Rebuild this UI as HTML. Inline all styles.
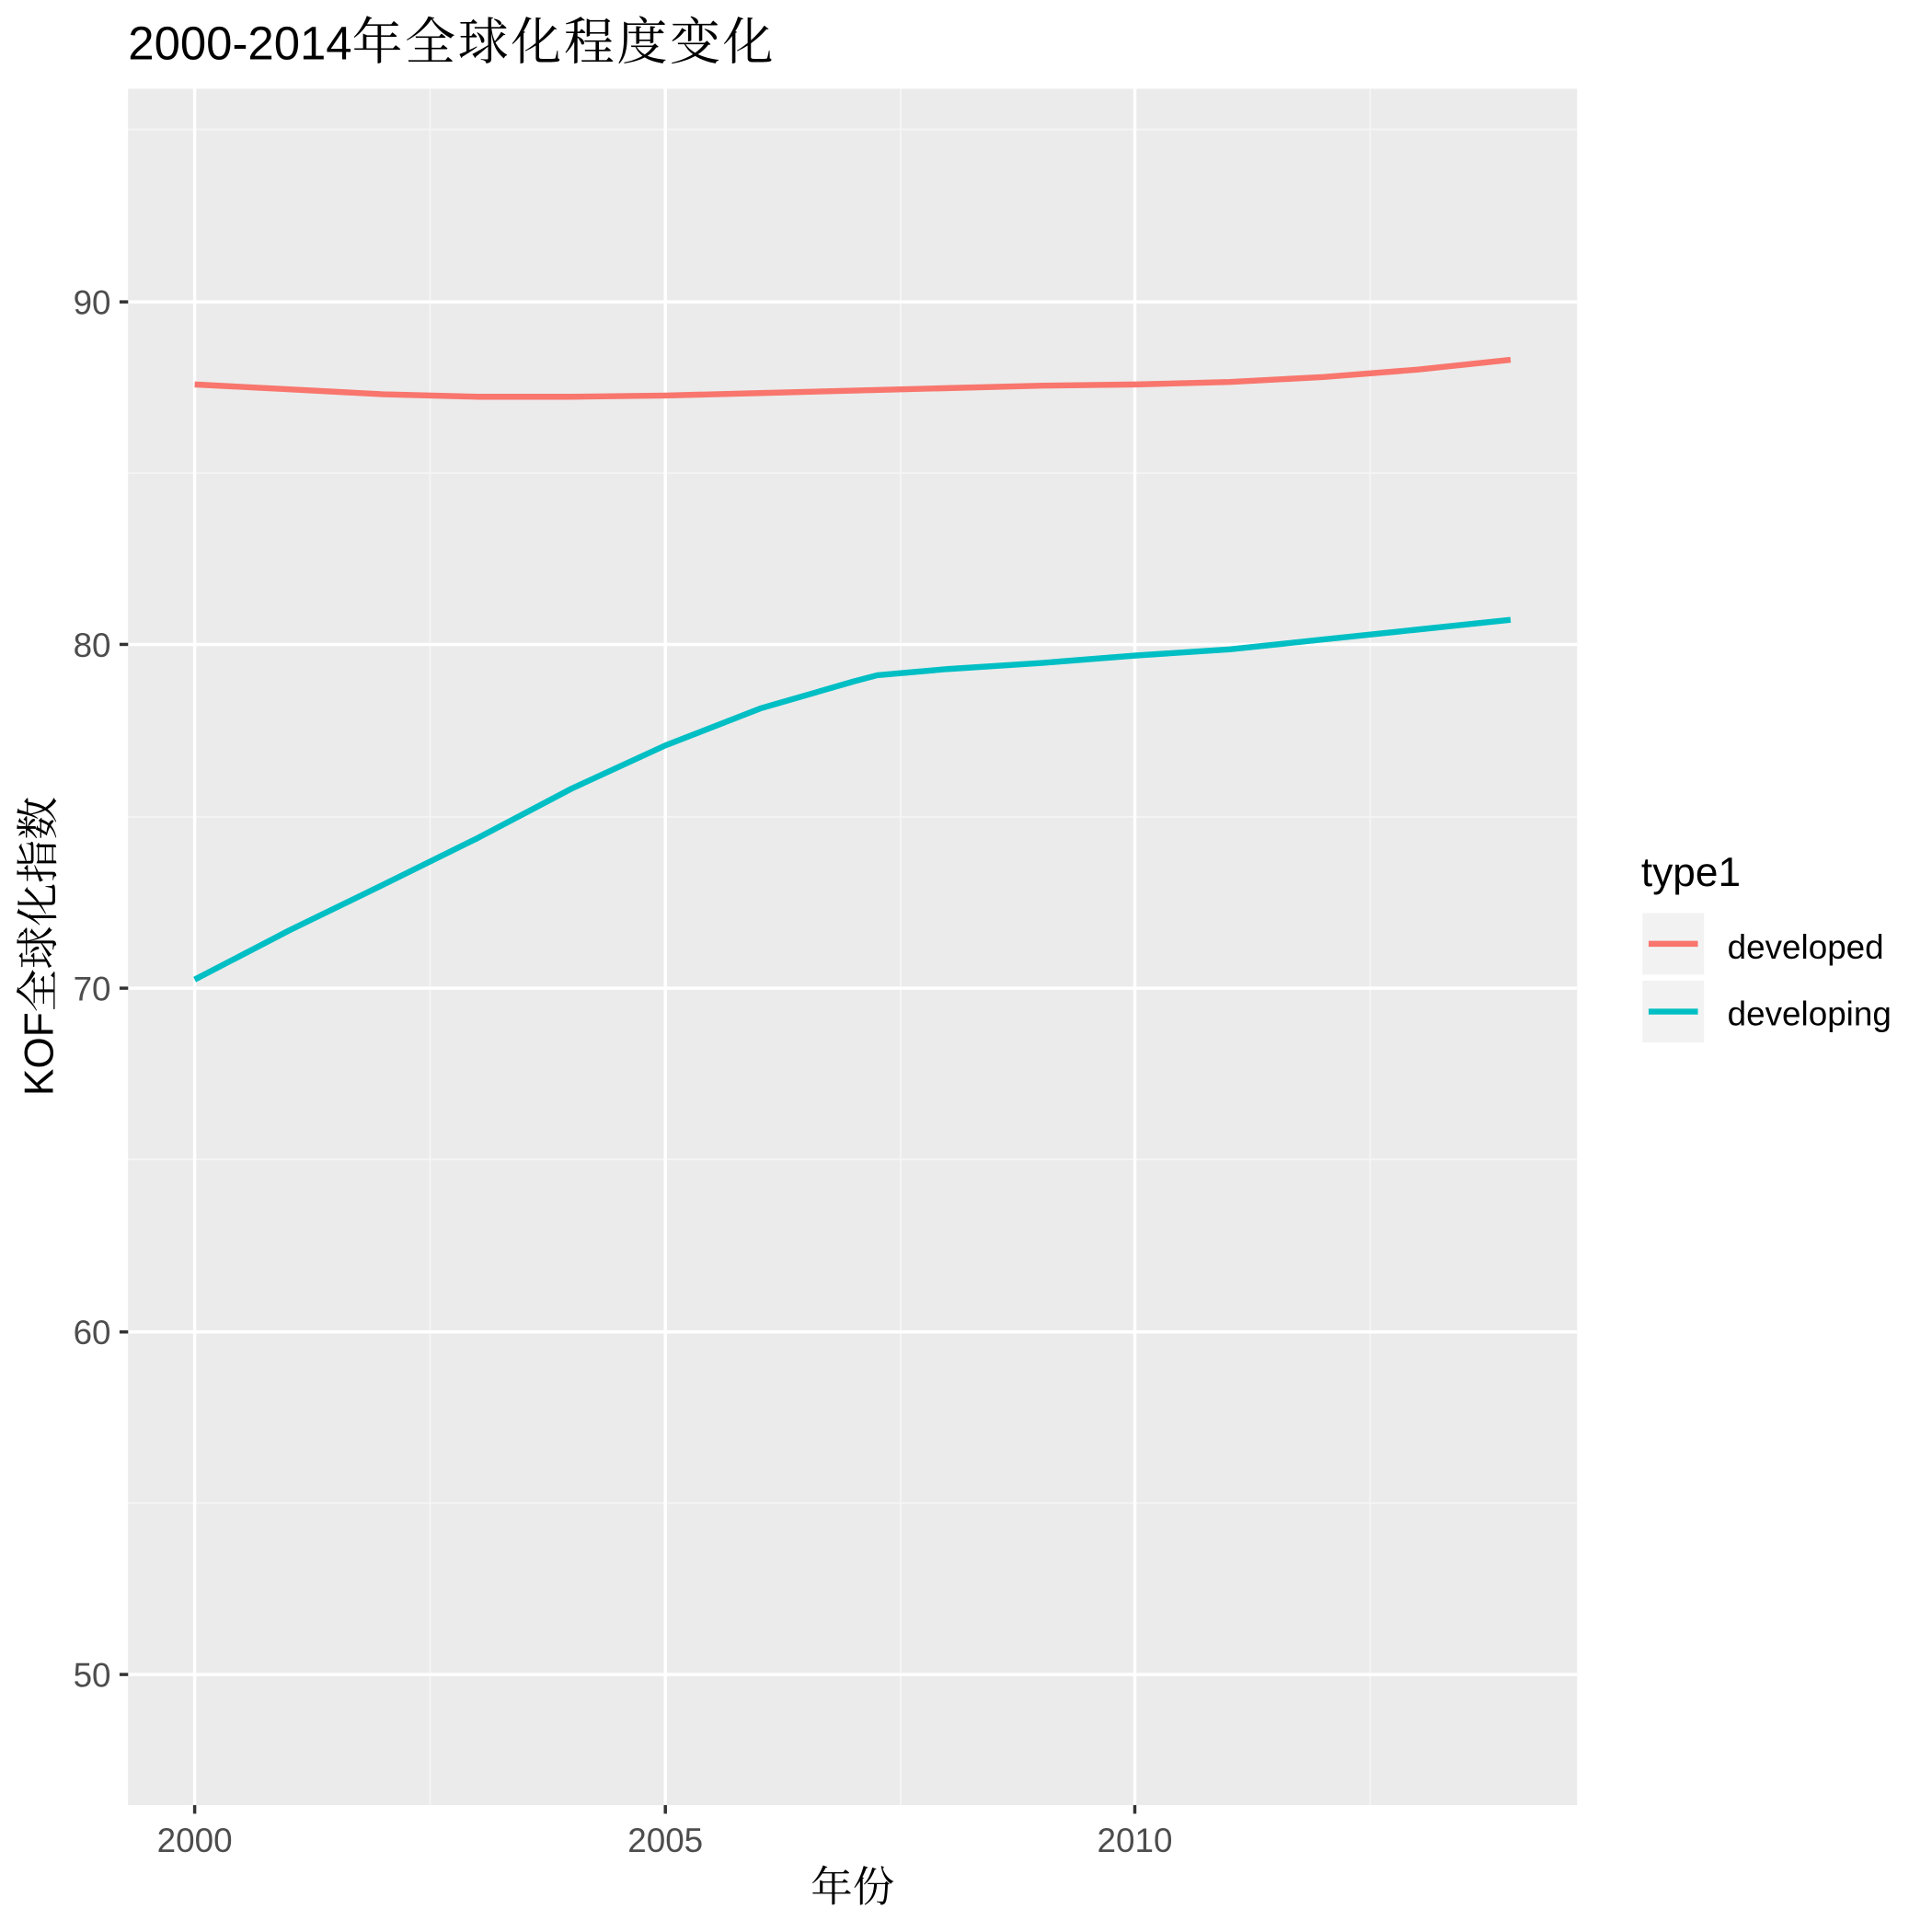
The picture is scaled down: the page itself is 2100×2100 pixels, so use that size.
<!DOCTYPE html>
<html><head><meta charset="utf-8"><style>html,body{margin:0;padding:0;background:#fff}svg{display:block}</style></head>
<body>
<svg width="2100" height="2100" viewBox="0 0 1568 1568" xmlns="http://www.w3.org/2000/svg" font-family="'Liberation Sans','Noto Sans CJK SC',sans-serif">
<rect x="0" y="0" width="1568" height="1568" fill="#fff"/>
<text x="104" y="48" font-size="38" fill="#000">2000-2014<tspan font-family="'Noto Serif CJK SC',serif" font-size="41" letter-spacing="2">年全球化程度变化</tspan></text>
<rect x="104" y="72" width="1176" height="1393" fill="#ebebeb"/>
<g stroke="#f5f5f5" stroke-width="1.3">
<line x1="104" x2="1280" y1="105" y2="105"/><line x1="104" x2="1280" y1="384" y2="384"/><line x1="104" x2="1280" y1="663" y2="663"/><line x1="104" x2="1280" y1="941" y2="941"/><line x1="104" x2="1280" y1="1220" y2="1220"/>
<line y1="72" y2="1465" x1="349" x2="349"/><line y1="72" y2="1465" x1="731" x2="731"/><line y1="72" y2="1465" x1="1112" x2="1112"/>
</g>
<g stroke="#fff" stroke-width="2.6">
<line x1="104" x2="1280" y1="245" y2="245"/><line x1="104" x2="1280" y1="523" y2="523"/><line x1="104" x2="1280" y1="802" y2="802"/><line x1="104" x2="1280" y1="1081" y2="1081"/><line x1="104" x2="1280" y1="1359" y2="1359"/>
<line y1="72" y2="1465" x1="158" x2="158"/><line y1="72" y2="1465" x1="540" x2="540"/><line y1="72" y2="1465" x1="921" x2="921"/>
</g>
<polyline fill="none" stroke="#f8766d" stroke-width="4.8" stroke-linejoin="round" points="158,312 235,316 311,320 388,322 464,322 540,321 617,319 693,317 769,315 846,313 922,312 998,310 1074,306 1150,300 1226,292"/>
<polyline fill="none" stroke="#00bfc4" stroke-width="4.8" stroke-linejoin="round" points="158,795 235,755 311,718 388,680 464,640 540,605 617,575 693,553 712,548 769,543 846,538 922,532 998,527 1074,519 1150,511 1226,503"/>
<g stroke="#333" stroke-width="2.6">
<line x1="97" x2="104" y1="245" y2="245"/><line x1="97" x2="104" y1="523" y2="523"/><line x1="97" x2="104" y1="802" y2="802"/><line x1="97" x2="104" y1="1081" y2="1081"/><line x1="97" x2="104" y1="1359" y2="1359"/>
<line y1="1465" y2="1472" x1="158" x2="158"/><line y1="1465" y2="1472" x1="540" x2="540"/><line y1="1465" y2="1472" x1="921" x2="921"/>
</g>
<g font-size="27.5" fill="#4d4d4d" text-anchor="end">
<text x="90" y="255">90</text><text x="90" y="533">80</text><text x="90" y="812">70</text><text x="90" y="1091">60</text><text x="90" y="1369">50</text>
</g>
<g font-size="27.5" fill="#4d4d4d" text-anchor="middle">
<text x="158" y="1503">2000</text><text x="540" y="1503">2005</text><text x="921" y="1503">2010</text>
</g>
<text x="692" y="1543" font-size="34" text-anchor="middle" font-family="'Noto Serif CJK SC',serif">年份</text>
<text transform="translate(43,768) rotate(-90)" font-size="33" text-anchor="middle">KOF<tspan font-family="'Noto Serif CJK SC',serif" font-size="35">全球化指数</tspan></text>
<text x="1332" y="719" font-size="33">type1</text>
<rect x="1333" y="741" width="50" height="50" fill="#f2f2f2"/>
<rect x="1333" y="796" width="50" height="50" fill="#f2f2f2"/>
<line x1="1338" x2="1378" y1="766" y2="766" stroke="#f8766d" stroke-width="4.8"/>
<line x1="1338" x2="1378" y1="821" y2="821" stroke="#00bfc4" stroke-width="4.8"/>
<text x="1402" y="778" font-size="27.5">developed</text>
<text x="1402" y="832" font-size="27.5">developing</text>
</svg>
</body></html>
